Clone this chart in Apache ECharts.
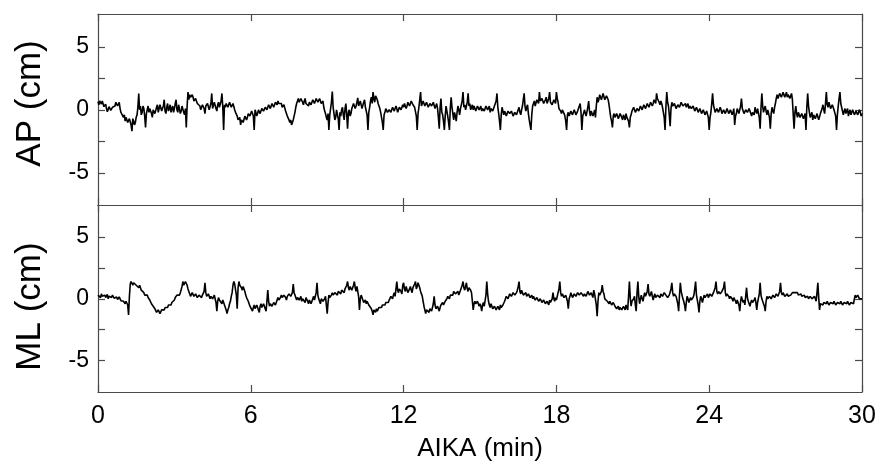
<!DOCTYPE html>
<html>
<head>
<meta charset="utf-8">
<script src="https://cdn.jsdelivr.net/npm/echarts@6/dist/echarts.min.js"></script>
<style>
html,body{margin:0;padding:0;background:#fff;}
#chart{width:879px;height:463px;}
</style>
</head>
<body>
<div id="chart"></div>
<script>
// ---- data ----
const SAMPLES_PER_MIN = 30;           // one value every 2 s
const X_TICKS = [0, 6, 12, 18, 24, 30];
const Y_TICKS = [-5, -2.5, 0, 2.5, 5];
const Y_TICK_LABELS = [-5, 0, 5];
const X_NAME = 'AIKA (min)';
const AP_NAME = 'AP (cm)';
const ML_NAME = 'ML (cm)';

// AP displacement (cm), one row per minute
const AP_CM = [
  0.65, 0.4, 0.7, 0.55, 0.45, 0.7, 0.55, 0.25, 0.3, 0.45, 0.1, -0.15, 0.0, 0.25, 0.2, -0.05, -0.1, 0.2, 0.05, 0.35, 0.3, 0.6, 0.55, 0.3, 0.35, 0.6, 0.1, -0.2, -0.3, -0.1,
  -0.6, -0.4, -0.9, -0.6, -0.7, -1.0, -1.1, -0.7, -0.8, -1.2, -1.7, -0.7, -0.9, -1.2, -1.0, -0.6, -0.4, 0.2, 1.3, 0.0, 0.3, -0.4, -0.2, 0.3, 0.1, -0.5, -1.4, -0.3, 0.0, 0.3,
  -0.2, 0.1, 0.2, -0.3, -0.6, 0.0, 0.1, -0.3, -0.2, 0.2, 0.4, -0.2, -0.1, 0.4, 0.3, -0.1, 0.0, 0.3, 0.8, -0.1, -0.3, 0.2, 0.5, -0.1, 0.1, 0.4, -0.2, 0.1, 0.3, -0.2,
  0.1, 0.5, 0.8, 0.0, -0.2, 0.4, 0.3, -0.3, -0.1, 0.3, 0.2, -0.2, -0.4, 0.1, -1.4, 0.3, 1.4, 0.8, 1.2, 1.0, 0.9, 1.2, 1.0, 0.7, 0.6, 0.9, 0.8, 0.5, 0.4, 0.6,
  0.3, 0.0, 0.1, 0.4, 0.5, 0.1, -0.3, 0.3, 0.2, 0.5, 0.4, 0.0, 0.0, 0.5, 1.3, 0.1, 0.2, 0.6, 0.5, 0.1, -0.1, 0.4, 0.6, 0.2, 0.3, 0.7, 1.3, 0.2, -1.6, 0.4,
  0.2, 0.5, 0.6, 0.2, 0.3, 0.6, 0.5, 0.2, 0.1, 0.5, 0.4, 0.0, -0.2, -0.3, -0.5, -0.8, -0.9, -0.6, -1.2, -0.8, -0.7, -1.0, -0.9, -0.5, -0.4, -0.8, -0.6, -0.3, -0.2, -0.5,
  -0.4, -0.1, -0.1, -0.5, -1.6, 0.0, -0.2, -0.5, -0.3, 0.0, 0.1, -0.3, -0.2, 0.1, 0.2, -0.1, 0.0, 0.2, 0.3, 0.0, 0.1, 0.4, 0.4, 0.1, 0.2, 0.5, 0.5, 0.2, 0.3, 0.6,
  0.6, 0.4, 0.7, 0.5, 0.4, 0.6, 0.5, 0.2, 0.2, 0.4, 0.3, -0.1, -0.2, -0.5, -0.6, -0.8, -1.0, -0.8, -1.2, -1.0, -0.8, -0.5, -0.2, 0.2, 0.5, 0.7, 0.9, 0.6, 0.6, 0.9,
  0.8, 0.6, 0.4, 0.7, 0.9, 0.5, 0.6, 0.4, 0.3, 0.6, 0.7, 0.4, 0.5, 0.8, 0.9, 0.5, 0.6, 0.9, 1.0, 0.6, 0.7, 0.9, 0.8, 0.5, 0.5, 0.7, 0.2, -0.1, -0.3, -0.6,
  -0.8, -0.3, -1.6, -0.4, 0.1, 0.6, 1.45, 0.2, -0.3, -0.8, -0.6, 0.0, -0.1, -0.7, -1.6, -0.2, -0.5, 0.0, 0.2, -0.4, -0.8, 0.1, 0.5, -0.4, -1.5, -0.2, 0.0, -0.5, -0.3, 0.1,
  0.2, 0.5, 0.6, 0.1, 0.3, 0.6, 0.95, 0.3, 0.4, 0.7, 0.7, 0.1, 0.2, 0.6, 0.8, 0.2, 0.3, -0.4, -1.6, -0.2, 0.2, 0.7, 1.0, 0.5, 1.4, 0.9, 0.6, 1.1, 1.2, 0.8,
  0.5, 0.3, 0.1, -0.2, -0.6, -1.0, -1.6, -0.4, -0.2, 0.1, 0.0, -0.2, -0.3, 0.0, 0.1, -0.2, -0.1, 0.2, 0.2, -0.1, 0.0, 0.3, 0.1, -0.2, -0.1, 0.2, 0.3, 0.0, 0.1, 0.4,
  0.2, 0.5, 0.4, 0.1, 0.3, 0.6, 0.6, 0.3, 0.4, 0.7, 0.7, 0.4, 0.5, 0.2, 0.3, -0.5, -1.6, -0.3, 0.2, 0.8, 1.4, 0.3, 0.4, 0.7, 0.6, 0.3, 0.2, 0.6, 0.5, 0.2,
  0.3, 0.5, 0.6, 0.3, 0.2, 0.6, 0.5, 0.1, 0.3, 0.5, 0.1, -0.6, -1.5, 0.2, 0.9, -0.2, -0.4, -0.9, -1.6, -0.5, 0.3, -0.1, -0.5, -1.0, -1.6, 0.1, 1.0, 0.2, -0.3, -0.8,
  -0.2, -0.5, -0.9, -0.2, 0.3, 0.0, -0.4, 0.1, 0.2, 0.7, 1.4, 0.2, 0.4, 0.0, 0.1, 0.6, 1.3, 0.3, 0.5, 0.0, 0.2, 0.4, 0.0, 0.3, 0.2, -0.1, 0.1, 0.3, 0.3, 0.0,
  0.1, 0.3, -0.1, 0.1, 0.2, -0.1, 0.0, 0.3, 0.3, 0.0, 0.1, 0.3, -0.2, 0.1, 0.2, -0.1, 0.1, 0.3, 0.4, 0.7, 1.3, 0.2, -0.3, -0.9, -1.6, -0.4, 0.2, -0.1, -0.4, -0.1,
  -0.2, -0.5, -0.5, -0.1, 0.0, -0.3, -0.4, -0.1, -0.2, -0.5, -0.6, -0.2, -0.1, -0.4, -0.3, 0.0, 0.2, -0.2, -0.4, 0.0, 0.3, 0.8, 1.3, 0.3, -0.1, 0.2, 0.4, -0.3, -0.8, -1.2,
  -1.6, -0.4, 0.3, 0.5, 0.7, 0.3, 0.4, 0.8, 0.9, 0.5, 1.4, 0.7, 0.6, 0.9, 0.8, 0.5, 0.4, 0.8, 1.0, 0.5, 0.6, 0.9, 1.4, 0.6, 0.7, 0.4, 0.5, 0.8, 0.9, 0.5,
  1.4, 0.9, 0.6, 0.1, 0.2, -0.1, -0.3, 0.0, 0.1, -0.3, -0.5, -0.9, -1.6, -0.4, -0.2, -0.5, -0.4, -0.1, 0.0, -0.4, -0.3, 0.0, -0.1, -0.4, -0.5, -0.1, 0.0, 0.3, 0.5, -0.2,
  -1.6, -0.5, -0.3, 0.0, -0.1, -0.5, -0.4, 0.2, 0.7, -0.1, -0.5, -0.1, -0.2, -0.5, -0.3, 0.0, -0.6, 0.3, 1.0, 0.6, 0.8, 1.2, 1.3, 0.8, 0.9, 1.3, 1.2, 0.8, 0.7, 1.1,
  1.1, 0.8, 0.4, -0.1, -0.6, -0.9, -1.4, -0.5, -0.3, -0.6, -0.7, -0.3, -0.4, -0.7, -0.6, -0.3, -0.2, -0.6, -0.8, -0.4, -0.5, -0.8, -0.3, -0.6, -0.7, -0.9, -1.4, -0.6, -0.4, -0.1,
  -0.2, 0.2, 0.1, -0.2, -0.3, 0.1, 0.2, -0.1, 0.0, 0.3, 0.3, 0.0, 0.1, 0.4, 0.4, 0.1, 0.2, 0.5, 0.5, 0.2, 0.3, 0.6, 0.6, 0.3, 0.5, 0.8, 0.8, 0.5, 1.3, 0.9,
  0.8, 0.6, 0.4, 0.7, 0.5, 0.2, 0.1, -0.6, -1.6, 0.2, 1.4, 0.6, 0.3, -0.4, -1.3, 0.1, 0.6, 0.3, 0.2, 0.5, 0.4, 0.1, 0.1, 0.4, 0.5, 0.2, 0.3, 0.6, 0.6, 0.3,
  0.2, 0.4, 0.5, 0.2, 0.3, 0.5, 0.1, 0.3, 0.4, 0.1, 0.0, 0.3, 0.2, -0.1, -0.1, 0.2, 0.1, -0.2, -0.2, 0.1, 0.0, -0.3, -0.3, 0.0, -0.1, -0.4, -0.4, -0.1, -0.2, -0.6,
  -1.6, -0.6, -0.2, 0.5, 1.3, 0.4, 0.1, -0.2, -0.3, 0.1, 0.2, -0.2, -0.1, 0.2, 0.0, -0.3, -0.4, 0.0, 0.1, -0.3, -0.2, 0.1, 0.0, -0.3, -0.3, 0.0, -0.1, -0.4, -0.2, 0.1,
  -1.2, -0.5, -0.3, 0.1, 0.0, -0.3, -0.2, 0.3, 0.9, 0.1, -0.1, -0.3, -0.4, 0.0, 0.1, -0.2, -0.3, 0.1, 0.0, -0.3, -0.5, -0.2, -0.1, -0.4, 0.2, -0.1, -0.3, 0.1, 0.0, -0.6,
  -1.5, 0.1, 1.3, 0.3, -0.2, 0.1, 0.3, -0.1, -0.4, 0.0, 0.1, -0.6, -1.5, -0.3, 0.2, -0.1, -0.3, 0.2, 0.5, 0.9, 1.2, 0.9, 1.0, 1.3, 1.4, 1.0, 1.1, 1.4, 1.3, 1.0,
  1.2, 1.4, 1.0, 1.2, 1.3, 0.9, 1.1, 1.3, 0.8, -0.4, -1.5, -0.2, 0.3, -0.3, -0.6, -0.2, -0.3, -0.6, -0.7, -0.3, -0.4, -0.7, -0.8, -0.3, -1.6, 0.2, 1.3, 0.3, -0.2, -0.6,
  -0.5, -0.2, -0.8, -0.4, -0.3, -0.7, -0.6, -0.3, -0.4, -0.8, -0.7, -0.3, -0.2, 0.1, 0.4, 0.0, -0.3, 0.5, 1.4, 0.4, 0.2, 0.6, 0.5, 0.1, 0.0, 0.4, 0.3, 0.0, 0.1, -0.5,
  -1.6, -0.4, 0.3, 0.9, 1.4, 0.5, 0.2, -0.1, -0.4, -0.1, 0.1, -0.3, -0.2, 0.1, -0.5, -0.2, 0.0, -0.4, -0.3, 0.0, -0.1, -0.4, -0.4, -0.1, 0.0, -0.4, -0.3, 0.0, -0.2, -0.5,
  -0.3
];

// ML displacement (cm), one row per minute
const ML_CM = [
  0.3, 0.45, 0.2, 0.1, 0.4, 0.2, 0.1, 0.35, 0.3, 0.1, 0.2, 0.35, 0.0, 0.2, 0.25, 0.05, 0.1, 0.3, 0.3, 0.05, 0.0, 0.2, 0.15, -0.05, -0.1, 0.15, 0.1, -0.15, -0.2, 0.0,
  -0.2, -0.3, -0.4, -0.2, -0.3, -0.5, -1.3, 0.2, 1.2, 1.4, 1.4, 1.1, 1.3, 1.4, 1.4, 1.1, 1.2, 1.0, 0.9, 1.1, 1.0, 0.7, 0.6, 0.8, 0.5, 0.3, 0.2, 0.4, 0.3, 0.1,
  0.0, -0.1, -0.2, -0.4, -0.5, -0.6, -0.7, -0.8, -0.9, -1.1, -1.25, -0.9, -1.0, -1.2, -1.1, -0.9, -0.8, -1.0, -0.9, -0.7, -0.6, -0.8, -0.7, -0.5, -0.4, -0.6, -0.5, -0.3, -0.2, -0.3,
  -0.1, 0.1, 0.2, 0.3, 0.4, 0.2, 0.3, 0.5, 0.6, 1.0, 1.4, 1.1, 1.2, 1.4, 1.4, 1.1, 0.8, 0.6, 0.5, 0.2, 0.3, 0.5, 0.4, 0.2, 0.1, 0.4, 0.3, 0.1, 0.0, 0.3,
  0.2, 0.4, 0.1, 0.3, 0.3, 0.6, 1.3, 0.5, 0.2, 0.1, 0.4, 0.2, 0.0, 0.2, 0.3, 0.0, 0.1, 0.3, 0.2, -0.3, -1.0, -0.2, 0.1, -0.1, -0.2, 0.0, -0.4, -0.1, -0.3, -0.5,
  -0.6, -0.9, -1.2, -0.9, -0.7, -0.4, -0.2, 0.2, 0.5, 1.1, 1.4, 1.2, 1.1, 0.3, -0.8, 0.9, 1.4, 1.1, 1.2, 0.9, 0.7, 1.0, 0.9, 0.6, 0.3, 0.1, 0.0, -0.2, -0.4, -0.6,
  -0.7, -0.5, -1.0, -0.7, -0.5, -0.8, -0.9, -0.5, -0.6, -0.9, -1.1, -0.6, -0.4, -0.7, -0.8, -0.4, -0.5, -0.8, -1.0, -0.2, 0.7, -0.2, -0.6, -0.4, -0.3, -0.6, -0.7, -0.3, -0.2, -0.5,
  -0.4, -0.1, 0.1, -0.1, -0.2, 0.1, 0.3, 0.1, 0.0, 0.3, 0.4, 0.1, -0.1, 0.2, 0.2, 0.4, 0.5, 0.2, 0.1, 0.5, 1.2, 0.5, 0.3, 0.1, -0.1, 0.1, 0.2, -0.1, 0.0, 0.2,
  -0.2, 0.0, 0.1, -0.1, -0.3, 0.1, 0.0, -0.2, -0.4, -0.1, -0.1, -0.4, -0.3, 0.0, 0.2, -0.1, -0.2, 0.5, 1.3, 0.3, 0.0, -0.2, -0.4, 0.0, 0.1, -0.2, -0.3, 0.0, 0.2, -0.5,
  -1.2, -0.3, 0.3, 0.1, 0.0, 0.3, 0.5, 0.3, 0.2, 0.5, 0.6, 0.4, 0.3, 0.6, 0.7, 0.5, 0.4, 0.7, 0.8, 0.6, 0.5, 0.8, 0.9, 1.1, 1.4, 0.9, 0.7, 1.0, 1.0, 0.7,
  0.8, 1.1, 1.4, 0.9, 0.6, 1.0, 0.9, 0.2, -0.9, 0.0, 0.3, 0.1, 0.0, -0.3, -0.2, -0.1, -0.4, -0.2, -0.3, -0.5, -0.6, -0.5, -0.8, -1.0, -1.3, -0.9, -1.0, -1.1, -0.8, -1.0,
  -0.9, -0.7, -0.6, -0.8, -0.7, -0.5, -0.4, -0.6, -0.5, -0.3, -0.2, -0.4, -0.3, -0.1, 0.0, 0.2, 0.1, 0.0, 0.3, 0.5, 0.2, 0.8, 1.4, 0.7, 0.5, 0.8, 0.9, 0.6, 0.4, 1.1,
  1.3, 0.8, 0.6, 1.0, 0.9, 0.5, 0.4, 0.8, 1.0, 0.7, 0.5, 0.9, 0.8, 1.2, 1.4, 0.8, 1.0, 1.3, 1.4, 0.9, 0.6, 0.4, 0.2, -0.2, -0.6, -0.9, -1.2, -0.9, -0.8, -1.0,
  -1.1, -0.8, -0.7, -1.0, -0.9, -0.4, 0.2, -0.5, -0.8, -0.9, -0.6, -0.8, -1.0, -0.7, -0.5, -0.6, -0.3, -0.5, -0.4, -0.2, -0.1, 0.0, 0.2, 0.1, 0.0, 0.3, 0.4, 0.2, 0.3, 0.6,
  0.5, 0.4, 0.3, 0.5, 0.6, 0.3, 0.4, 0.7, 0.8, 1.1, 1.4, 0.9, 0.7, 1.0, 1.3, 0.8, 0.6, 0.9, 1.0, 0.7, 0.5, -0.2, -0.9, -0.4, -0.2, -0.4, -0.5, -0.2, -0.3, -0.6,
  -0.4, -0.6, -1.0, -0.5, -0.3, -0.6, -0.5, 0.3, 1.4, 0.4, -0.2, -0.5, -0.7, -0.4, -0.5, -0.8, -0.9, -0.6, -0.6, -0.9, -1.0, -0.6, -0.7, -0.9, -0.5, -0.7, -0.8, -0.5, -0.4, -0.2,
  -0.1, 0.2, 0.3, 0.0, 0.1, 0.4, 0.5, 0.2, 0.3, 0.5, 0.6, 0.3, 0.2, 0.5, 0.7, 1.0, 1.4, 0.6, 0.4, 0.7, 0.6, 0.3, 0.2, 0.4, 0.5, 0.2, 0.1, 0.4, 0.3, 0.1,
  0.2, 0.3, 0.0, 0.2, 0.1, -0.1, -0.2, 0.1, 0.0, -0.2, -0.3, 0.0, -0.1, -0.3, -0.4, -0.1, -0.2, -0.4, -0.5, -0.2, -0.3, -0.5, -0.1, -0.3, -0.4, 0.0, 0.5, 0.0, -0.2, 0.1,
  -0.1, 0.2, 0.3, 0.8, 1.4, 0.5, 0.2, 0.4, 0.4, 0.1, 0.0, 0.3, 0.3, -0.2, -0.8, 0.0, 0.2, 0.5, 0.4, 0.1, 0.1, 0.4, 0.5, 0.2, 0.3, 0.5, 0.6, 0.3, 0.2, 0.5,
  0.4, 0.6, 0.2, 0.4, 0.5, 0.2, 0.3, 0.6, 0.6, 0.3, 0.2, 0.5, 0.4, 0.1, 0.7, 0.4, 0.3, -0.5, -1.4, -0.2, 0.5, 0.3, 0.2, 0.6, 1.1, 0.6, 0.4, 0.0, 0.1, -0.1,
  -0.2, -0.1, -0.4, -0.2, -0.3, -0.5, -0.6, -0.3, -0.4, -0.6, -0.5, -0.8, -0.7, -0.6, -0.9, -0.7, -0.6, -0.9, -1.0, -0.6, -0.7, -0.9, -0.5, -0.7, -0.9, 0.2, 1.4, 0.1, -0.6, -0.2,
  -0.3, 0.0, 0.2, -0.5, -1.0, 0.5, 1.4, 0.2, -0.4, 0.0, 0.3, 0.0, -0.2, 0.2, 0.5, 0.2, 0.1, 0.6, 1.2, 0.4, 0.2, 0.4, 0.6, 0.2, -0.1, 0.2, 0.4, 0.1, 0.0, 0.3,
  0.4, 0.2, 0.1, 0.4, 0.5, 0.2, 0.2, 0.5, 0.6, 0.3, 0.3, 0.1, 0.0, 0.3, 0.4, 0.8, 1.3, 0.5, 0.2, 0.4, 0.5, 0.2, 0.1, -0.4, -1.0, 0.3, 1.3, 0.6, 0.3, 0.0,
  -0.2, -0.5, -1.0, -0.3, 0.2, 0.0, -0.3, -0.1, 0.1, -0.1, -0.2, 0.1, 0.3, 0.8, 1.4, 0.3, -0.1, -0.5, -1.1, -0.2, 0.2, 0.0, -0.3, 0.0, 0.3, 0.1, 0.0, 0.2, 0.4, 0.1,
  0.2, 0.4, 0.5, 0.2, 0.3, 0.5, 0.6, 0.9, 1.4, 0.6, 0.4, 0.6, 0.7, 0.4, 0.3, 0.6, 0.5, 0.9, 1.4, 0.5, 0.2, 0.4, 0.5, 0.2, 0.0, 0.2, 0.3, 0.0, -0.2, 0.1,
  0.1, -0.2, -0.4, -0.1, -0.1, -0.5, -1.0, -0.2, 0.2, -0.1, -0.3, -0.1, -0.5, 0.2, 0.9, 0.1, -0.2, -0.4, -0.6, -0.3, -0.1, -0.3, -0.4, -0.1, 0.1, -0.3, -0.9, -0.3, -0.2, 0.4,
  1.3, 0.3, 0.0, -0.2, -0.3, -0.6, -1.0, -0.2, 0.2, 0.0, -0.1, 0.2, 0.3, 0.0, 0.0, 0.3, 0.4, 0.1, 0.1, 0.4, 0.5, 0.2, 0.2, 0.6, 1.3, 0.5, 0.3, 0.5, 0.5, 0.2,
  0.2, 0.3, 0.4, 0.2, 0.1, 0.3, 0.3, 0.4, 0.5, 0.4, 0.4, 0.5, 0.6, 0.4, 0.5, 0.3, 0.3, 0.4, 0.4, 0.2, 0.2, 0.3, 0.3, 0.1, 0.1, 0.2, 0.2, 0.0, 0.0, 0.2,
  0.1, 0.0, -0.1, 0.1, 0.2, 0.0, -0.2, 0.5, 1.3, 0.1, -0.9, -0.4, -0.3, -0.4, -0.5, -0.3, -0.2, -0.4, -0.4, -0.2, -0.3, -0.5, -0.5, -0.3, -0.2, -0.4, -0.4, -0.2, -0.3, -0.5,
  -0.5, -0.3, -0.2, -0.4, -0.4, -0.2, -0.3, -0.5, -0.6, -0.3, -0.2, -0.4, -0.4, -0.2, -0.3, -0.5, -0.5, -0.3, -0.2, -0.4, -0.4, 0.0, 0.3, 0.1, 0.1, 0.3, 0.2, 0.0, -0.1, 0.1,
  0.0
];

// ---- styling ----
const FONT = '"Liberation Sans", Arial, Helvetica, sans-serif';
const AXIS_COLOR = '#4a4a4a';
const X_MIN = 0, X_MAX = 30, X_STEP = 6;
const Y_MIN = -7.55, Y_MAX = 7.6;

function pairs(values) {
  return values.map((v, i) => [i / SAMPLES_PER_MIN, v]);
}

function xAxis(gridIndex, position, withLabels) {
  return {
    type: 'value', gridIndex, position, min: X_MIN, max: X_MAX, interval: X_STEP,
    axisLine: { show: true, onZero: false, lineStyle: { color: AXIS_COLOR, width: 1.2 } },
    axisTick: { show: true, inside: true, length: 7, lineStyle: { color: AXIS_COLOR, width: 1.2 } },
    axisLabel: { show: withLabels, color: '#000', fontSize: 25, fontFamily: FONT, margin: 12,
                 formatter: v => (X_TICKS.indexOf(v) >= 0 ? String(v) : '') },
    splitLine: { show: false },
    name: withLabels ? X_NAME : '',
    nameLocation: 'middle', nameGap: 44,
    nameTextStyle: { color: '#000', fontSize: 26, fontFamily: FONT }
  };
}

function yAxis(gridIndex, position, name, pad) {
  const main = position === 'left';
  return {
    type: 'value', gridIndex, position, min: Y_MIN, max: Y_MAX,
    axisLine: { show: true, onZero: false, lineStyle: { color: AXIS_COLOR, width: 1.2 } },
    axisTick: { show: true, inside: true, length: 7, customValues: Y_TICKS,
                lineStyle: { color: AXIS_COLOR, width: 1.2 } },
    axisLabel: { show: main, customValues: Y_TICK_LABELS, color: '#000', fontSize: 23,
                 fontFamily: FONT, margin: 9 },
    splitLine: { show: false },
    name: main ? name : '',
    nameLocation: 'middle', nameGap: 50,
    nameTextStyle: { color: '#000', fontSize: 35, fontFamily: FONT, padding: pad }
  };
}

const chart = echarts.init(document.getElementById('chart'), null, { renderer: 'canvas' });
chart.setOption({
  animation: false,
  backgroundColor: '#fff',
  grid: [
    { left: 98, top: 14, width: 764, height: 191 },
    { left: 98, top: 205, width: 764, height: 190 }
  ],
  xAxis: [
    xAxis(0, 'bottom', false),
    xAxis(1, 'bottom', true),
    xAxis(0, 'top', false),
    xAxis(1, 'top', false)
  ],
  yAxis: [
    yAxis(0, 'left', AP_NAME, [0, 0, 0, 12]),
    yAxis(1, 'left', ML_NAME, [0, 16, 0, 0]),
    yAxis(0, 'right', '', 0),
    yAxis(1, 'right', '', 0)
  ],
  series: [
    { name: 'AP', type: 'line', xAxisIndex: 0, yAxisIndex: 0, data: pairs(AP_CM),
      showSymbol: false, symbol: 'none', lineStyle: { color: '#000', width: 1.6 }, silent: true },
    { name: 'ML', type: 'line', xAxisIndex: 1, yAxisIndex: 1, data: pairs(ML_CM),
      showSymbol: false, symbol: 'none', lineStyle: { color: '#000', width: 1.6 }, silent: true }
  ]
});
</script>
</body>
</html>
